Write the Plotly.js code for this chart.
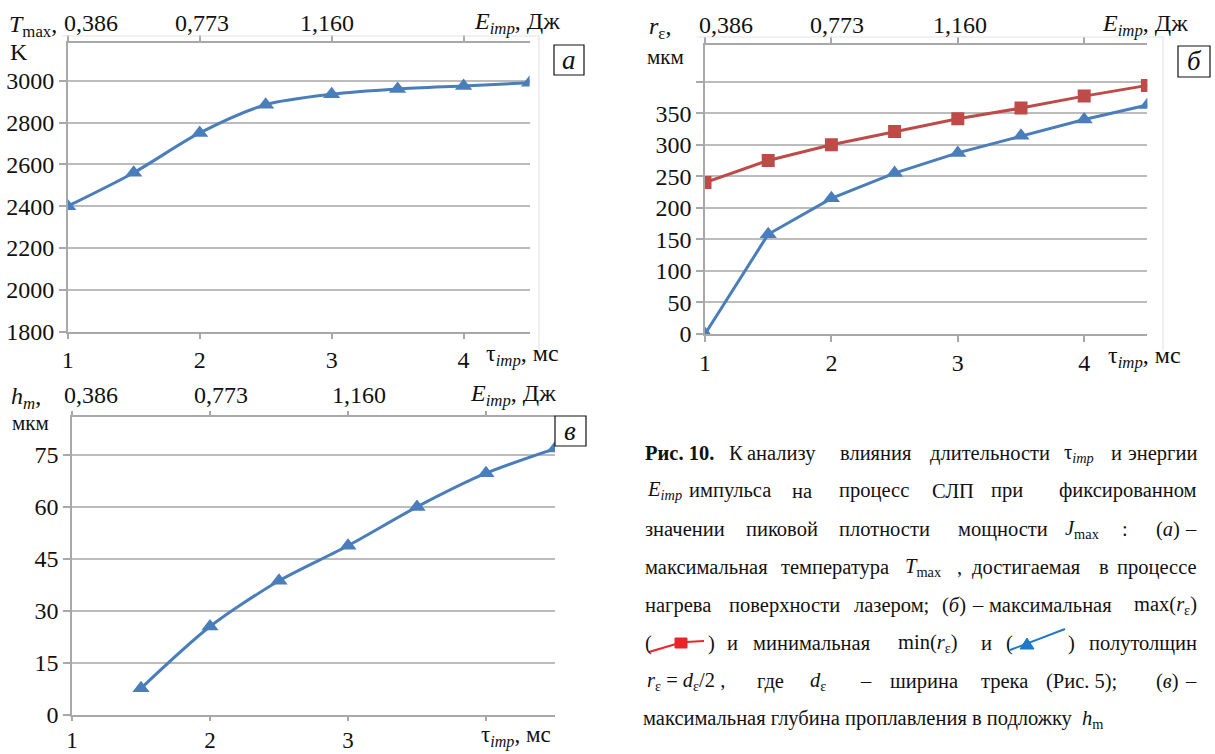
<!DOCTYPE html>
<html>
<head>
<meta charset="utf-8">
<script src="https://cdn.plot.ly/plotly-3.0.1.min.js"></script>
<style>
html, body { margin: 0; padding: 0; background: #fff; }
svg text, svg tspan { font-family: "Liberation Serif", serif !important; }
</style>
</head>
<body>
<div id="chart"></div>
<script>
// ---------- data ----------
const tau = [1, 1.5, 2, 2.5, 3, 3.5, 4, 4.5];
const tMax = [2400, 2560, 2750, 2885, 2935, 2960, 2975, 2990];
const rMax = [240, 275, 300, 321, 341, 358, 377, 394];
const rMin = [0, 158, 215, 255, 287, 314, 340, 363];
const tauH = [1.5, 2, 2.5, 3, 3.5, 4, 4.5];
const hM = [7.7, 25.5, 38.7, 48.8, 60, 69.7, 76.8];
const tauTickVals = [1, 2, 3, 4];
const tauTickTextAB = ['1', '2', '3', '4'];
const tauTickTextC = ['1', '2', '3', ''];
const tTickVals = [1800, 2000, 2200, 2400, 2600, 2800, 3000];
const rTickVals = [0, 50, 100, 150, 200, 250, 300, 350, 400];
const rTickText = ['0', '50', '100', '150', '200', '250', '300', '350', ''];
const hTickVals = [0, 15, 30, 45, 60, 75];
const energyTickVals = [1, 2, 3];
const energyLabels = ['0,386', '0,773', '1,160'];

// ---------- helpers ----------
const W = 1215, H = 754;
const SERIF = 'Liberation Serif, serif';
const BLUE = '#4a7ebb', RED = '#be4b48';
const GRID = '#bcbcbc', AXIS = '#a8a8a8';
const TXT = '#111111';
const fx = p => p / W, fy = p => 1 - p / H;

function pa(text, x, y, size, anchor) {
  return {
    text: text, xref: 'paper', yref: 'paper', x: fx(x), y: fy(y),
    xanchor: anchor || 'left', yanchor: 'middle', showarrow: false,
    font: {family: SERIF, size: size, color: TXT}
  };
}

function xAx(dom, yName, tickText, fs, tl) {
  return {
    domain: [fx(dom[0]), fx(dom[1])], anchor: yName, range: [1, 4.5],
    tickmode: 'array', tickvals: tauTickVals, ticktext: tickText,
    ticks: 'outside', ticklen: tl, tickcolor: AXIS, tickwidth: 1.5,
    showline: true, linecolor: AXIS, linewidth: 1.5, mirror: 'ticks',
    showgrid: false, zeroline: false,
    tickfont: {family: SERIF, size: fs, color: TXT}
  };
}
function yAx(dom, xName, range, vals, text) {
  const o = {
    domain: [fy(dom[1]), fy(dom[0])], anchor: xName, range: range,
    tickmode: 'array', tickvals: vals,
    ticks: 'outside', ticklen: 7, tickcolor: AXIS, tickwidth: 1.5,
    showline: true, linecolor: AXIS, linewidth: 1.5,
    showgrid: true, gridcolor: GRID, gridwidth: 1.5, zeroline: false,
    tickfont: {family: SERIF, size: 24, color: TXT}
  };
  if (text) o.ticktext = text;
  return o;
}

// ---------- traces ----------
const traces = [
  {x: tau, y: tMax, xaxis: 'x', yaxis: 'y', mode: 'lines+markers',
   line: {color: BLUE, width: 3, shape: 'spline', smoothing: 0.8},
   marker: {symbol: 'triangle-up', size: 15, color: BLUE}},
  {x: tau, y: rMax, xaxis: 'x2', yaxis: 'y2', mode: 'lines+markers',
   line: {color: RED, width: 3},
   marker: {symbol: 'square', size: 13, color: RED}},
  {x: tau, y: rMin, xaxis: 'x2', yaxis: 'y2', mode: 'lines+markers',
   line: {color: BLUE, width: 3},
   marker: {symbol: 'triangle-up', size: 15, color: BLUE}},
  {x: tauH, y: hM, xaxis: 'x3', yaxis: 'y3', mode: 'lines+markers',
   line: {color: BLUE, width: 3, shape: 'spline', smoothing: 0.8},
   marker: {symbol: 'triangle-up', size: 15, color: BLUE}}
];

// ---------- annotations ----------
const ann = [];
function energy(xref, yPix, shifts) {
  energyTickVals.forEach((v, i) => {
    ann.push({text: energyLabels[i], xref: xref, yref: 'paper', x: v, y: fy(yPix),
      xanchor: i === 0 ? 'left' : 'center', yanchor: 'middle', xshift: shifts[i],
      showarrow: false, font: {family: SERIF, size: 24, color: TXT}});
  });
}
energy('x', 23, [-6, 2, -5]);
energy('x2', 25, [-8, 6, 2]);
energy('x3', 395, [-10, 11, 11]);

const EIMP = '<i>E</i><sub><i>imp</i></sub>, Дж';
const TAU = 'τ<sub><i>imp</i></sub>, мс';
ann.push(pa(EIMP, 472, 23, 24));
ann.push(pa(EIMP, 1100, 25, 24));
ann.push(pa(EIMP, 468, 395, 24));
ann.push(pa(TAU, 484, 355, 24));
ann.push(pa(TAU, 1106, 357, 24));
ann.push(pa(TAU, 479, 736, 23));

ann.push(pa('<i>T</i><sub>max</sub>,', 7, 26, 24));
ann.push(pa('K', 8, 52, 24));
ann.push(pa('<i>r</i><sub>ε</sub>,', 647, 28, 24));
ann.push(pa('мкм', 645, 57, 21));
ann.push(pa('<i>h</i><sub><i>m</i></sub>,', 9, 398, 24));
ann.push(pa('мкм', 10, 423, 21));

ann.push(pa('<i>а</i>', 569, 60, 27, 'center'));
ann.push(pa('<i>б</i>', 1194, 61, 27, 'center'));
ann.push(pa('<i>в</i>', 570, 431, 27, 'center'));

const CS = 20.5;
const caption = [
  [453, [['<b>Рис. 10.</b>', 643], ['К', 727], ['анализу', 745], ['влияния', 838], ['длительности', 928],
         ['τ<sub><i>imp</i></sub>', 1062], ['и', 1109], ['энергии', 1199, 'right']]],
  [491, [['<i>E</i><sub><i>imp</i></sub>', 645], ['импульса', 687], ['на', 790], ['процесс', 837],
         ['СЛП', 930], ['при', 989], ['фиксированном', 1199, 'right']]],
  [529, [['значении', 643], ['пиковой', 744], ['плотности', 837], ['мощности', 956],
         ['<i>J</i><sub>max</sub>', 1063], [':', 1120], ['(<i>а</i>)', 1154], ['–', 1199, 'right']]],
  [567, [['максимальная', 643], ['температура', 779], ['<i>T</i><sub>max</sub>', 903], [',', 955],
         ['достигаемая', 970], ['в', 1097], ['процессе', 1199, 'right']]],
  [605, [['нагрева', 643], ['поверхности', 727], ['лазером;', 852], ['(<i>б</i>)', 940], ['–', 970],
         ['максимальная', 987], ['max(<i>r</i><sub>ε</sub>)', 1199, 'right']]],
  [643, [['(', 643], [')', 706], ['и', 725], ['минимальная', 751], ['min(<i>r</i><sub>ε</sub>)', 896],
         ['и', 979], ['(', 1004], [')', 1066], ['полутолщин', 1199, 'right']]],
  [681, [['<i>r</i><sub>ε</sub> = <i>d</i><sub>ε</sub>/2 ,', 645], ['где', 755], ['<i>d</i><sub>ε</sub>', 808],
         ['–', 858], ['ширина', 888], ['трека', 979], ['(Рис. 5);', 1044], ['(<i>в</i>)', 1154], ['–', 1199, 'right']]],
  [719, [['максимальная глубина проплавления в подложку  <i>h</i><sub>m</sub>', 641]]]
];
caption.forEach(line => {
  line[1].forEach(w => ann.push(pa(w[0], w[1], line[0], CS, w[2] || 'left')));
});

// ---------- shapes ----------
const shapes = [];
function rect(x0, y0, x1, y1, color, fill, width) {
  shapes.push({type: 'rect', xref: 'paper', yref: 'paper', x0: fx(x0), x1: fx(x1), y0: fy(y1), y1: fy(y0),
    line: {color: color, width: width}, fillcolor: fill, layer: 'above'});
}
function seg(x0, y0, x1, y1, color, width) {
  shapes.push({type: 'line', xref: 'paper', yref: 'paper', x0: fx(x0), x1: fx(x1), y0: fy(y0), y1: fy(y1),
    line: {color: color, width: width}});
}
seg(62, 36, 539, 36, '#e4e4e4', 1.2);
seg(539, 36, 539, 352, '#e4e4e4', 1.2);
seg(697, 37, 1163, 37, '#e4e4e4', 1.2);
seg(1163, 37, 1163, 350, '#e4e4e4', 1.2);
rect(554, 45, 584, 75, '#111', 'rgba(0,0,0,0)', 1.2);
rect(1178, 46, 1210, 77, '#111', 'rgba(0,0,0,0)', 1.2);
rect(555, 416, 586, 446, '#111', 'rgba(0,0,0,0)', 1.2);
seg(649, 652, 676, 644, '#e8262a', 2);
seg(686, 642, 704, 641, '#e8262a', 2);
rect(675, 638, 687, 648, '#e8262a', '#e8262a', 1);
seg(1010, 650, 1065, 629, '#1f78c8', 2);
shapes.push({type: 'path', xref: 'paper', yref: 'paper', layer: 'above',
  path: 'M ' + fx(1020) + ' ' + fy(649) + ' L ' + fx(1034) + ' ' + fy(649) + ' L ' + fx(1027) + ' ' + fy(638) + ' Z',
  fillcolor: '#1f78c8', line: {color: '#1f78c8', width: 1}});

// ---------- layout ----------
const layout = {
  width: W, height: H, margin: {l: 0, r: 0, t: 0, b: 0},
  paper_bgcolor: '#fff', plot_bgcolor: '#fff', showlegend: false,
  font: {family: SERIF, color: TXT},
  xaxis: xAx([67.7, 529.6], 'y', tauTickTextAB, 24, 6),
  yaxis: yAx([43, 331.7], 'x', [1800, 3180], tTickVals),
  xaxis2: xAx([705, 1147.4], 'y2', tauTickTextAB, 24, 6),
  yaxis2: yAx([45, 334], 'x2', [0, 458], rTickVals, rTickText),
  xaxis3: xAx([72, 555], 'y3', tauTickTextC, 23, 4),
  yaxis3: yAx([416.7, 715], 'x3', [0, 86], hTickVals),
  annotations: ann, shapes: shapes
};

Plotly.newPlot('chart', traces, layout, {displayModeBar: false});
</script>
</body>
</html>
